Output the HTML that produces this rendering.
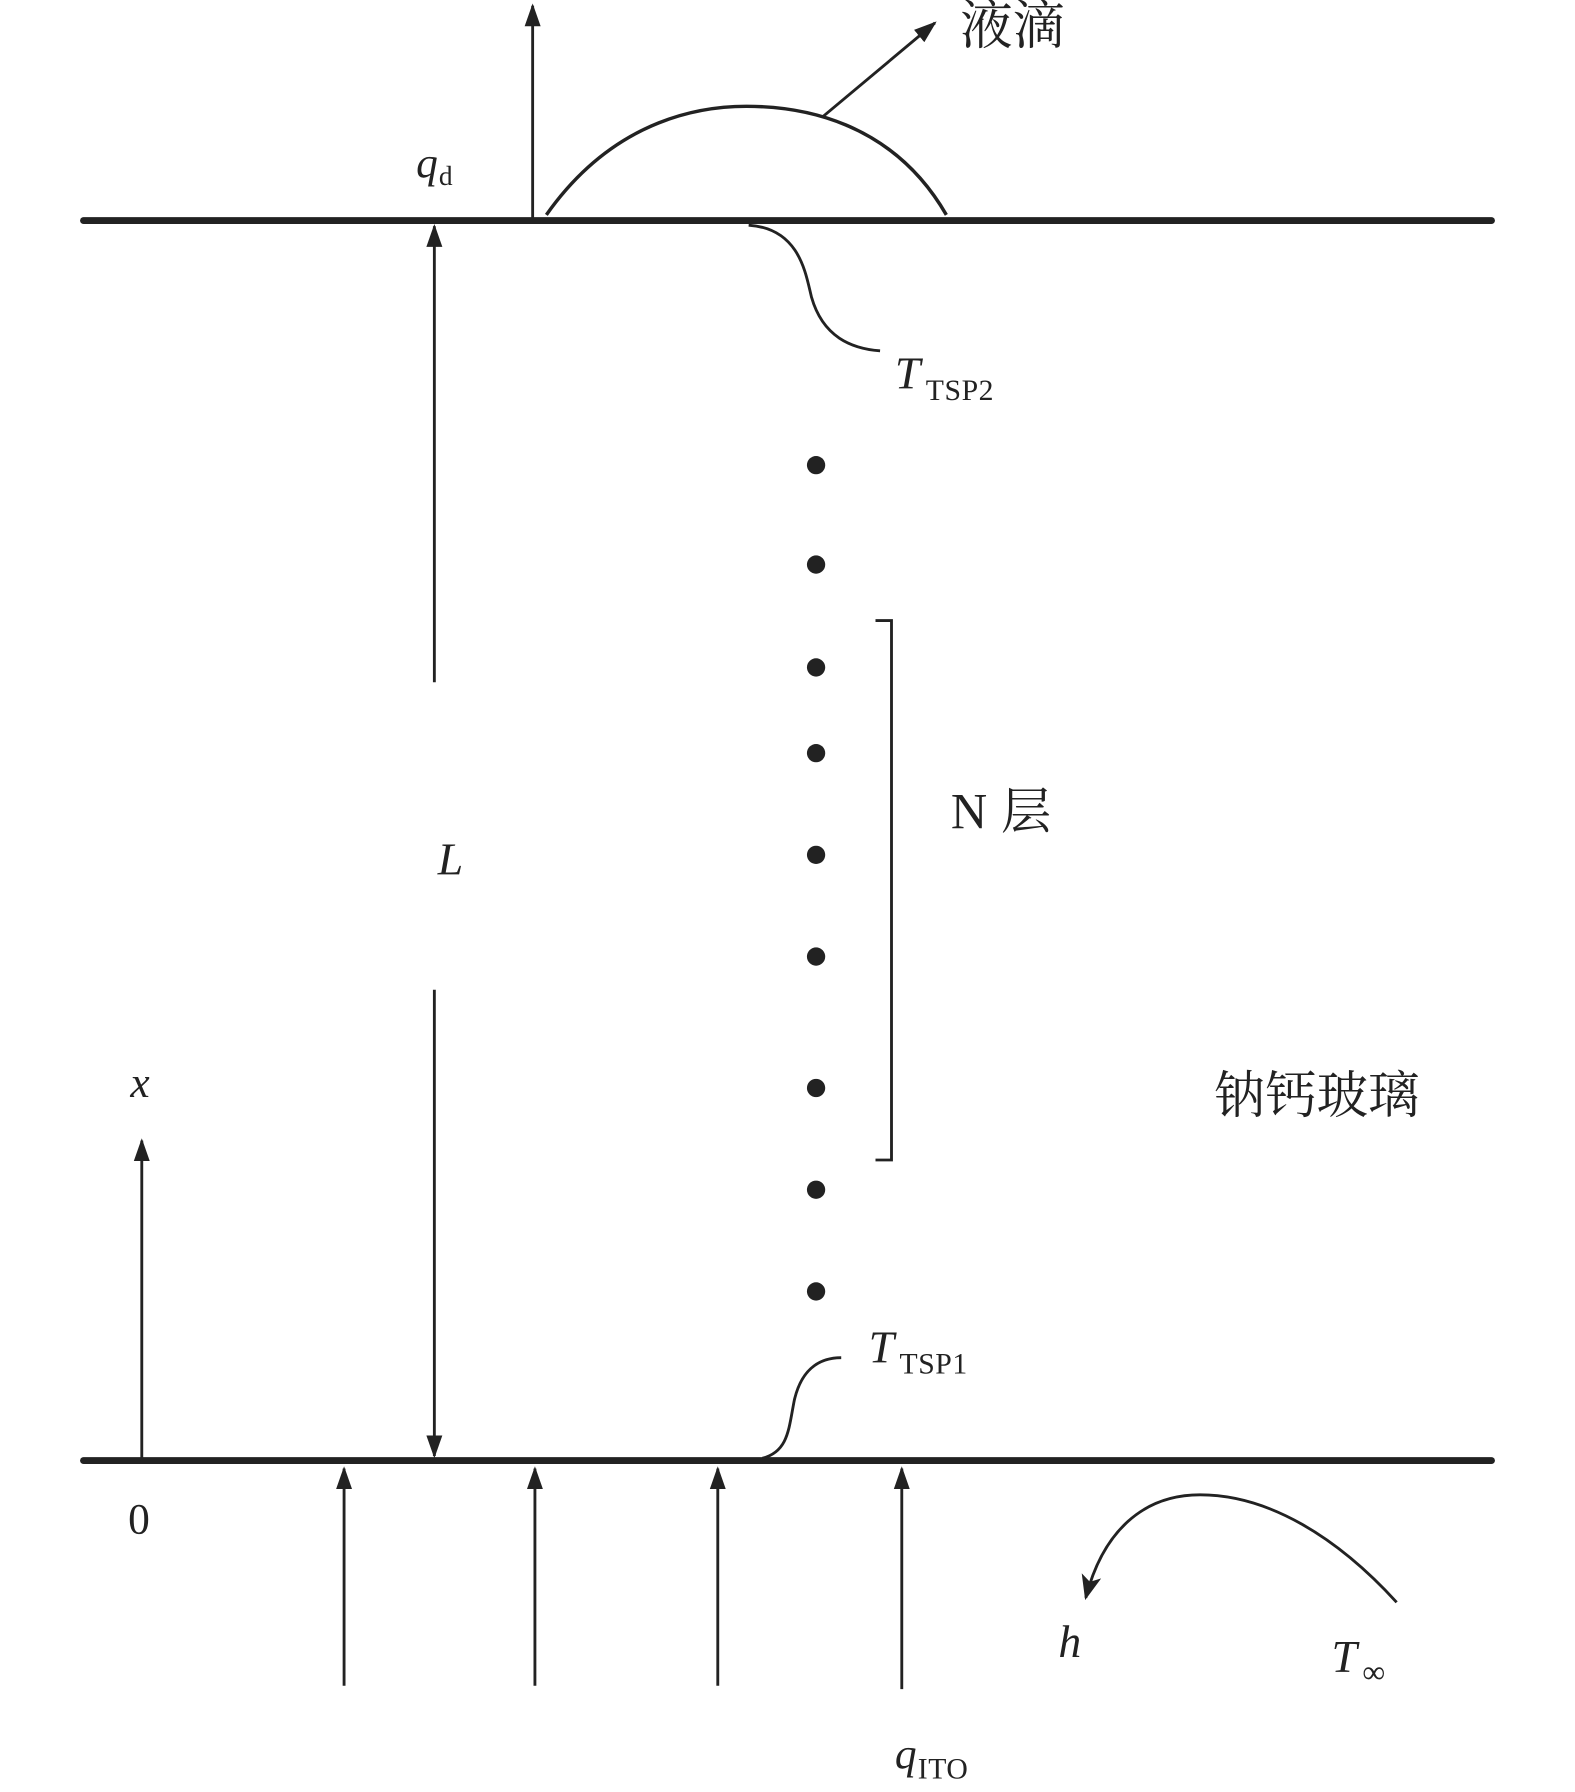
<!DOCTYPE html>
<html><head><meta charset="utf-8"><style>
html,body{margin:0;padding:0;background:#fff;}
svg{display:block;}
text{font-family:"Liberation Serif","Noto Serif CJK SC",serif;fill:#222;}
.it{font-style:italic;}
.cjk{font-family:"Liberation Serif","Noto Serif CJK SC","Noto Sans CJK SC",serif;}
</style></head><body>
<svg width="1575" height="1792" viewBox="0 0 1378 1568" xmlns="http://www.w3.org/2000/svg">
<defs>
<marker id="ah" viewBox="0 0 20 20" refX="18" refY="10" markerWidth="20" markerHeight="20" markerUnits="userSpaceOnUse" orient="auto">
<path d="M0,3 L20,10 L0,17 Z" fill="#222"/></marker>
<marker id="ah2" viewBox="0 0 20 20" refX="18" refY="10" markerWidth="22" markerHeight="22" markerUnits="userSpaceOnUse" orient="auto">
<path d="M0,2 L20,10 L0,18 L5,10 Z" fill="#222"/></marker>
</defs>
<g stroke="#222" fill="none">
<line x1="73" y1="193" x2="1305" y2="193" stroke-width="6" stroke-linecap="round"/>
<line x1="73" y1="1278" x2="1305" y2="1278" stroke-width="6" stroke-linecap="round"/>
<line x1="466" y1="193" x2="466" y2="5" stroke-width="2.5" marker-end="url(#ah)"/>
<path d="M478,188 C540,100 620,93 653,93 C700,93 780,105 828,188" stroke-width="3"/>
<line x1="720" y1="102" x2="818" y2="20" stroke-width="2.5" marker-end="url(#ah)"/>
<line x1="380" y1="597" x2="380" y2="198" stroke-width="2.5" marker-end="url(#ah)"/>
<line x1="380" y1="866" x2="380" y2="1274" stroke-width="2.5" marker-end="url(#ah)"/>
<path d="M655,197 C700,200 705,240 710,260 C720,295 745,305 770,307" stroke-width="2.5"/>
<path d="M667,1276 C690,1270 690,1250 695,1225 C702,1195 720,1188 736,1188" stroke-width="2.5"/>
<path d="M766,543 L780,543 L780,1015 L766,1015" stroke-width="2.5"/>
<line x1="124" y1="1278" x2="124" y2="998" stroke-width="2.5" marker-end="url(#ah)"/>
<line x1="301" y1="1475" x2="301" y2="1285" stroke-width="2.5" marker-end="url(#ah)"/>
<line x1="468" y1="1475" x2="468" y2="1285" stroke-width="2.5" marker-end="url(#ah)"/>
<line x1="628" y1="1475" x2="628" y2="1285" stroke-width="2.5" marker-end="url(#ah)"/>
<line x1="789" y1="1478" x2="789" y2="1285" stroke-width="2.5" marker-end="url(#ah)"/>
<path d="M1222,1402 C1170,1345 1110,1308 1050,1308 C1000,1308 965,1340 950,1398" stroke-width="2.5" marker-end="url(#ah2)"/>
</g>
<g fill="#222">
<circle cx="714" cy="407" r="8"/><circle cx="714" cy="494" r="8"/><circle cx="714" cy="584" r="8"/>
<circle cx="714" cy="659" r="8"/><circle cx="714" cy="748" r="8"/><circle cx="714" cy="837" r="8"/>
<circle cx="714" cy="952" r="8"/><circle cx="714" cy="1041" r="8"/><circle cx="714" cy="1130" r="8"/>
</g>
<text x="840" y="38" font-size="46" class="cjk">液滴</text>
<text x="364" y="155" font-size="38" class="it">q</text><text x="384" y="162" font-size="24">d</text>
<text x="783" y="340" font-size="40" class="it">T</text><text x="810" y="350" font-size="26" letter-spacing="0.5">TSP2</text>
<text x="760" y="1192" font-size="40" class="it">T</text><text x="787" y="1202" font-size="26" letter-spacing="0.5">TSP1</text>
<text x="383" y="765" font-size="40" class="it">L</text>
<text x="832" y="725" font-size="44" class="cjk">N<tspan dx="12">层</tspan></text>
<text x="1062" y="974" font-size="45" class="cjk">钠钙玻璃</text>
<text x="114" y="960" font-size="38" class="it">x</text>
<text x="112" y="1342" font-size="38">0</text>
<text x="783" y="1547" font-size="38" class="it">q</text><text x="803" y="1556" font-size="26" letter-spacing="0.5">ITO</text>
<text x="926" y="1450" font-size="40" class="it">h</text>
<text x="1165" y="1463" font-size="40" class="it">T</text><text x="1192" y="1472" font-size="28">∞</text>
</svg>
</body></html>
